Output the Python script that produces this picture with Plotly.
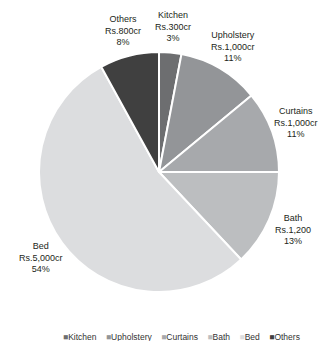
import math
import plotly.graph_objects as go

categories = ["Kitchen", "Upholstery", "Curtains", "Bath", "Bed", "Others"]
percent_values = [3, 11, 11, 13, 54, 8]
amount_labels = ["Rs.300cr", "Rs.1,000cr", "Rs.1,000cr", "Rs.1,200", "Rs.5,000cr", "Rs.800cr"]
colors = ["#6d6e70", "#939598", "#a7a9ac", "#bcbec0", "#dcdddf", "#404040"]

W, H = 329, 341
CX, CY, R = 159, 172, 120      # pie centre / radius in pixels
LABEL_R = 146                   # label distance from centre in pixels

fig = go.Figure(go.Pie(
    labels=categories,
    values=percent_values,
    textinfo="none",
    hoverinfo="label+percent",
    marker=dict(colors=colors, line=dict(color="white", width=2)),
    sort=False,
    direction="clockwise",
    rotation=0,
    showlegend=False,
    domain=dict(x=[(CX - R) / W, (CX + R) / W], y=[1 - (CY + R) / H, 1 - (CY - R) / H]),
))

total = sum(percent_values)
cum = 0
for name, amt, p in zip(categories, amount_labels, percent_values):
    mid = (cum + p / 2) / total * 2 * math.pi
    cum += p
    px = CX + LABEL_R * math.sin(mid)
    py = CY - LABEL_R * math.cos(mid)
    fig.add_annotation(
        text=f"{name}<br>{amt}<br>{p}%", x=px / W, y=1 - py / H,
        xref="paper", yref="paper", xanchor="center", yanchor="middle",
        showarrow=False,
        font=dict(size=9, color="#231f20", family="Liberation Sans, Arial"),
    )

gap = "\u00a0" * 4
legend_text = gap.join(
    f"<span style='color:{c}'>■</span><span style='color:#333333'>{n}</span>"
    for n, c in zip(categories, colors)
)
fig.add_annotation(
    text=legend_text, x=181 / W, y=1 - 337 / H, xref="paper", yref="paper",
    xanchor="center", yanchor="middle", showarrow=False,
    font=dict(size=8.5, color="#333333", family="Liberation Sans, Arial"),
)

fig.update_layout(
    width=W, height=H,
    margin=dict(l=0, r=0, t=0, b=0),
    paper_bgcolor="white", plot_bgcolor="white",
)
fig.write_html("out.html", config={"displayModeBar": False},
               post_script="document.body.style.margin='0';")
